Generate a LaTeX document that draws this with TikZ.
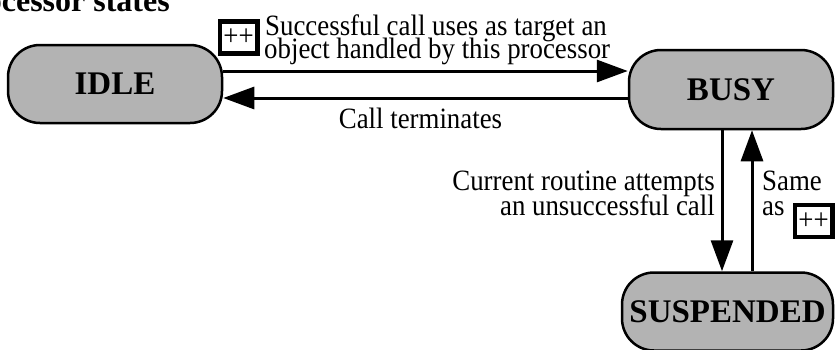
\documentclass[tikz,border=0pt]{standalone}
\usepackage{fontspec}
\setmainfont{Liberation Serif}
\newfontfamily\lblfont[FakeStretch=0.91]{Liberation Serif}
\usetikzlibrary{arrows.meta}
\definecolor{stategray}{HTML}{B3B3B3}
\begin{document}
\begin{tikzpicture}[x=1pt,y=-1pt,
  statebox/.style={draw, line width=2.5pt, fill=stategray, rounded corners=32pt,
    inner sep=0pt, font=\fontsize{33}{33}\selectfont\bfseries},
  lbl/.style={inner sep=0pt, font=\lblfont\fontsize{29.5}{29.5}\selectfont},
  plusbox/.style={draw, line width=4.5pt, inner sep=0pt, minimum width=37.5pt,
    minimum height=32pt, font=\lblfont\fontsize{29.5}{29.5}\selectfont},
  arr/.style={line width=3pt, -{Triangle[length=31pt,width=22pt]}},
  title/.style={inner sep=0pt, font=\fontsize{32}{32}\selectfont\bfseries}]
\useasboundingbox (0,0) rectangle (835,349);

% title (partially clipped at the left)
\node[title, anchor=base east] (ttl) at (170,11) {Processor states};

% states
\node[statebox, minimum width=214pt, minimum height=78pt] (idle) at (115,84) {IDLE};
\node[statebox, minimum width=204pt, minimum height=79pt] (busy) at (731,89.5) {BUSY};
\node[statebox, minimum width=211pt, minimum height=78pt] (susp) at (727.5,311.5) {SUSPENDED};

% helper coordinates
\coordinate (ytop) at (0,71);
\coordinate (ybot) at (0,98);
\coordinate (xdown) at (722,0);
\coordinate (xup) at (752,0);

% connectors
\draw[arr] (idle.east |- ytop) -- (busy.west |- ytop);
\draw[arr] (busy.west |- ybot) -- (idle.east |- ybot);
\draw[arr] (busy.south -| xdown) -- (susp.north -| xdown);
\draw[arr] (susp.north -| xup) -- (busy.south -| xup);

% labels
\node[plusbox] (pp1) at (238.5,37.5) {++};
\node[lbl, anchor=base west] (t1a) at (265,35) {Successful call uses as target an};
\node[lbl, anchor=base west] (t1b) at (264,58) {object handled by this processor};
\node[lbl, anchor=base] (t2) at (420.5,128) {Call terminates};
\node[lbl, anchor=base east] (t3a) at (715,190) {Current routine attempts};
\node[lbl, anchor=base east] (t3b) at (715,215) {an unsuccessful call};
\node[lbl, anchor=base west] (t4a) at (762,190) {Same};
\node[lbl, anchor=base west] (t4b) at (762,215) {as};
\node[plusbox] (pp2) at (813.5,221) {++};
\end{tikzpicture}
\end{document}
